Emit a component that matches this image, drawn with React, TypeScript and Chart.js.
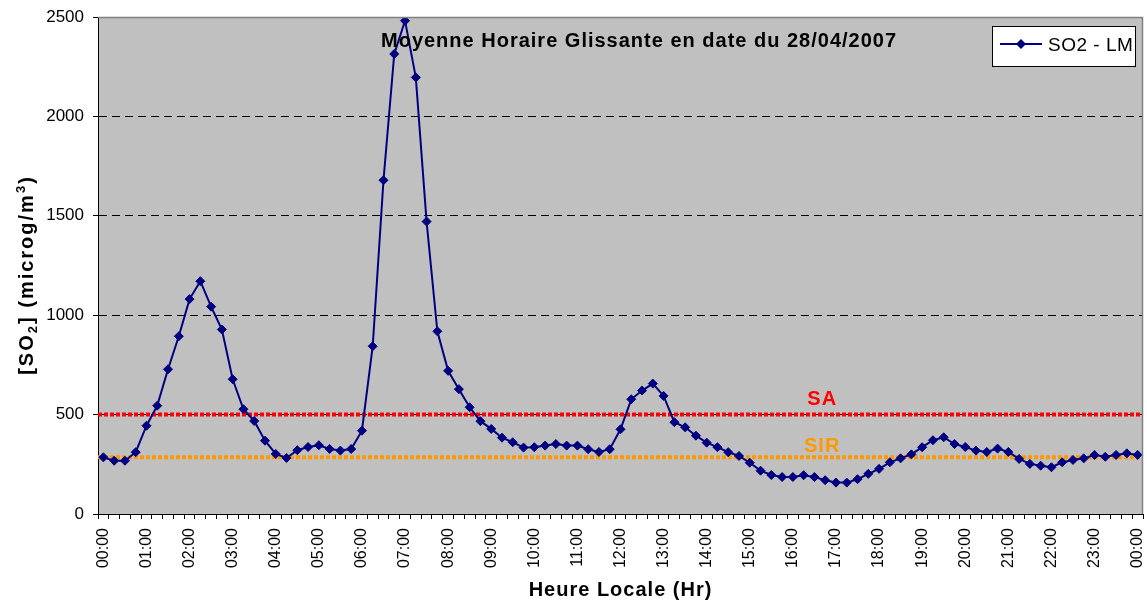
import React, { useEffect, useRef } from 'react';
import { Chart, registerables } from 'chart.js';

Chart.register(...registerables);

const TITLE = 'Moyenne Horaire Glissante en date du 28/04/2007';
const SERIES_NAME = 'SO2 - LM';
const X_TITLE = 'Heure Locale (Hr)';
const Y_MIN = 0;
const Y_MAX = 2500;
const Y_STEP = 500;
const SA_VALUE = 500;
const SIR_VALUE = 285;
const SA_LABEL = 'SA';
const SIR_LABEL = 'SIR';

// 15-minute categories from 00:00 to 00:00 next day (97 points)
const TIME_LABELS: string[] = [];
for (let h = 0; h < 24; h++) {
  for (const m of ['00', '15', '30', '45']) {
    TIME_LABELS.push(String(h).padStart(2, '0') + ':' + m);
  }
}
TIME_LABELS.push('00:00');

const SO2_VALUES: number[] = [
  285, 268, 268, 311, 444, 545, 728, 894, 1081, 1171, 1043, 928, 678, 527, 468, 369,
  302, 282, 321, 337, 346, 327, 319, 327, 419, 844, 1679, 2314, 2481, 2196, 1471, 919,
  720, 628, 537, 467, 428, 384, 361, 334, 336, 344, 352, 344, 344, 326, 312, 326,
  426, 577, 621, 656, 594, 462, 436, 394, 359, 336, 311, 292, 258, 218, 196, 186,
  186, 195, 186, 170, 158, 158, 175, 202, 227, 260, 280, 300, 336, 371, 386, 352,
  337, 319, 312, 329, 312, 277, 252, 243, 235, 260, 272, 280, 297, 288, 297, 305,
  297,
];

const FONT = '"Liberation Sans", Arial, Helvetica, sans-serif';
const NAVY = '#000080';

type Seg = { text: string; size: number; dy: number };

function drawSegs(ctx: CanvasRenderingContext2D, segs: Seg[], x: number, y: number, spacing: number, bold: boolean) {
  let cx = x;
  for (const s of segs) {
    ctx.font = `${bold ? 'bold ' : ''}${s.size}px ${FONT}`;
    (ctx as any).letterSpacing = spacing + 'px';
    ctx.fillText(s.text, cx, y + s.dy);
    cx += ctx.measureText(s.text).width;
  }
}

function segsWidth(ctx: CanvasRenderingContext2D, segs: Seg[], spacing: number, bold: boolean) {
  let w = 0;
  for (const s of segs) {
    ctx.font = `${bold ? 'bold ' : ''}${s.size}px ${FONT}`;
    (ctx as any).letterSpacing = spacing + 'px';
    w += ctx.measureText(s.text).width;
  }
  return w;
}

const decorPlugin = {
  id: 'decor',
  beforeDraw(chart: any) {
    const { ctx, chartArea: a } = chart;
    ctx.save();
    ctx.fillStyle = '#C0C0C0';
    ctx.fillRect(a.left, a.top, a.right - a.left, a.bottom - a.top);
    ctx.restore();
  },
  beforeDatasetsDraw(chart: any) {
    const { ctx, chartArea: a } = chart;
    const y = chart.scales.y;
    ctx.save();
    const lines = [
      { v: SA_VALUE, color: '#FF0000', label: SA_LABEL, dy: -10 },
      { v: SIR_VALUE, color: '#FF9900', label: SIR_LABEL, dy: -5 },
    ];
    for (const l of lines) {
      const py = y.getPixelForValue(l.v);
      ctx.strokeStyle = l.color;
      ctx.lineWidth = 4;
      ctx.setLineDash([4, 2]);
      ctx.beginPath();
      ctx.moveTo(a.left, py);
      ctx.lineTo(a.right, py);
      ctx.stroke();
    }
    ctx.setLineDash([]);
    ctx.textAlign = 'left';
    ctx.textBaseline = 'alphabetic';
    for (const l of lines) {
      const py = y.getPixelForValue(l.v);
      ctx.fillStyle = l.color;
      const segs = [{ text: l.label, size: 20, dy: 0 }];
      const w = segsWidth(ctx, segs, 1, true);
      const cx = a.left + (a.right - a.left) * 0.693;
      drawSegs(ctx, segs, cx - w / 2, py + l.dy, 1, true);
    }
    ctx.restore();
  },
  afterDraw(chart: any) {
    const { ctx, chartArea: a } = chart;
    ctx.save();
    // plot border (top/right)
    ctx.strokeStyle = '#808080';
    ctx.lineWidth = 1.5;
    ctx.beginPath();
    ctx.moveTo(a.left, a.top + 0.5);
    ctx.lineTo(a.right - 0.5, a.top + 0.5);
    ctx.lineTo(a.right - 0.5, a.bottom);
    ctx.stroke();

    ctx.fillStyle = '#000';
    ctx.textAlign = 'left';
    ctx.textBaseline = 'alphabetic';
    // title
    drawSegs(ctx, [{ text: TITLE, size: 20, dy: 0 }], a.left + 283, a.top + 30, 1, true);

    // x title
    const xs = [{ text: X_TITLE, size: 20, dy: 0 }];
    const xw = segsWidth(ctx, xs, 1, true);
    drawSegs(ctx, xs, (a.left + a.right) / 2 - xw / 2, 596, 1, true);

    // y title
    const ys: Seg[] = [
      { text: '[SO', size: 20, dy: 0 },
      { text: '2', size: 13, dy: 4 },
      { text: '] (microg/m', size: 20, dy: 0 },
      { text: '3', size: 13, dy: -8 },
      { text: ')', size: 20, dy: 0 },
    ];
    const yw = segsWidth(ctx, ys, 2, true);
    ctx.save();
    ctx.translate(33, 275 + yw / 2);
    ctx.rotate(-Math.PI / 2);
    drawSegs(ctx, ys, 0, 0, 2, true);
    ctx.restore();

    // legend
    const lx = a.right - 151;
    const ly = a.top + 9;
    const lw = 143;
    const lh = 40;
    ctx.fillStyle = '#FFFFFF';
    ctx.fillRect(lx, ly, lw, lh);
    ctx.strokeStyle = '#000';
    ctx.lineWidth = 1;
    ctx.strokeRect(lx + 0.5, ly + 0.5, lw, lh);
    const my = ly + 18;
    ctx.strokeStyle = NAVY;
    ctx.lineWidth = 2;
    ctx.beginPath();
    ctx.moveTo(lx + 8, my);
    ctx.lineTo(lx + 50, my);
    ctx.stroke();
    ctx.fillStyle = NAVY;
    ctx.beginPath();
    const dx = lx + 29;
    const r = 5;
    ctx.moveTo(dx, my - r);
    ctx.lineTo(dx + r, my);
    ctx.lineTo(dx, my + r);
    ctx.lineTo(dx - r, my);
    ctx.closePath();
    ctx.fill();
    ctx.fillStyle = '#000';
    drawSegs(ctx, [{ text: SERIES_NAME, size: 19, dy: 0 }], lx + 56, ly + 25, 0.5, false);
    (ctx as any).letterSpacing = '0px';
    ctx.restore();
  },
};

export default function App() {
  const ref = useRef<HTMLCanvasElement | null>(null);

  useEffect(() => {
    if (!ref.current) return;
    const chart = new Chart(ref.current, {
      type: 'line',
      data: {
        labels: TIME_LABELS,
        datasets: [
          {
            label: SERIES_NAME,
            data: SO2_VALUES,
            borderColor: NAVY,
            backgroundColor: NAVY,
            borderWidth: 2,
            pointStyle: 'rectRot',
            pointRadius: 4.5,
            pointBorderWidth: 1,
            pointBackgroundColor: NAVY,
            pointBorderColor: NAVY,
            tension: 0,
          },
        ],
      },
      options: {
        responsive: false,
        animation: false,
        devicePixelRatio: 1,
        layout: { padding: { left: 0, right: 4, top: 17, bottom: 0 }, autoPadding: false },
        plugins: {
          legend: { display: false },
          title: { display: false },
          tooltip: { enabled: false },
        },
        scales: {
          x: {
            type: 'category',
            offset: true,
            grid: {
              offset: true,
              drawOnChartArea: false,
              drawTicks: true,
              tickLength: 5,
              color: '#000',
              tickColor: '#000',
            },
            border: { display: true, color: '#000', width: 1 },
            ticks: {
              autoSkip: false,
              minRotation: 90,
              maxRotation: 90,
              padding: 9,
              color: '#000',
              font: { family: FONT, size: 16 },
              callback: (_v: any, i: number) => (i % 4 === 0 ? TIME_LABELS[i] : ''),
            },
            afterFit: (s: any) => {
              s.height = 88;
              s.paddingLeft = 0;
              s.paddingRight = 0;
            },
          },
          y: {
            min: Y_MIN,
            max: Y_MAX,
            grid: {
              drawTicks: true,
              tickLength: 5,
              color: (c: any) =>
                c.tick && (c.tick.value === Y_MIN || c.tick.value === Y_MAX) ? 'rgba(0,0,0,0)' : '#000',
              tickColor: '#000',
            },
            border: { display: true, color: '#000', width: 1, dash: [8, 5] },
            ticks: {
              stepSize: Y_STEP,
              padding: 9,
              color: '#000',
              font: { family: FONT, size: 17 },
              callback: (v: any) => String(v),
            },
            afterFit: (s: any) => {
              s.width = 98;
              s.paddingTop = 0;
              s.paddingBottom = 0;
            },
          },
        },
      },
      plugins: [decorPlugin],
    });
    return () => chart.destroy();
  }, []);

  return (
    <div style={{ position: 'absolute', left: 0, top: 0, width: 1147, height: 602, background: '#fff' }}>
      <canvas ref={ref} width={1147} height={602} style={{ display: 'block' }} />
    </div>
  );
}
